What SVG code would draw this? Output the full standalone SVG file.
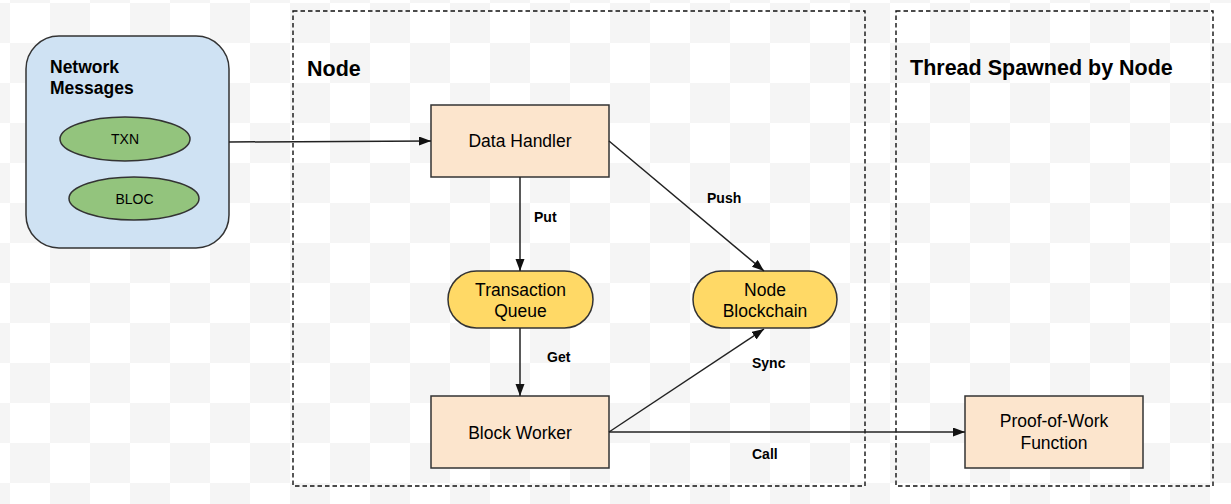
<svg xmlns="http://www.w3.org/2000/svg" width="1231" height="504" viewBox="0 0 1231 504">
  <defs>
    <pattern id="checker" patternUnits="userSpaceOnUse" x="10" y="3" width="80" height="80">
      <rect x="0" y="0" width="80" height="80" fill="#ffffff"/>
      <rect x="40" y="0" width="40" height="40" fill="#f5f5f5"/>
      <rect x="0" y="40" width="40" height="40" fill="#f5f5f5"/>
    </pattern>
    <marker id="arrow" markerUnits="userSpaceOnUse" markerWidth="13" markerHeight="10" refX="12" refY="4.5" orient="auto">
      <path d="M0,0 L12,4.5 L0,9 z" fill="#111"/>
    </marker>
    <style>
      text { font-family: "Liberation Sans", Arial, sans-serif; fill: #000; }
      .title { font-weight: bold; font-size: 21.5px; }
      .sub { font-weight: bold; font-size: 17.5px; }
      .lbl { font-size: 17.5px; text-anchor: middle; }
      .small { font-size: 14px; text-anchor: middle; }
      .edge { font-weight: bold; font-size: 14px; }
      .frame { fill: none; stroke: #111; stroke-width: 1.4; stroke-dasharray: 4.5 3; }
      .box { fill: #fce5cd; stroke: #333; stroke-width: 1.5; }
      .pill { fill: #ffd966; stroke: #333; stroke-width: 1.5; }
      .oval { fill: #93c47d; stroke: #333; stroke-width: 1.5; }
      .conn { fill: none; stroke: #222; stroke-width: 1.5; }
    </style>
  </defs>
  <rect x="0" y="0" width="1231" height="504" fill="url(#checker)"/>

  <g id="frame-node">
    <rect class="frame" x="293" y="11" width="572" height="475"/>
    <text class="title" x="307" y="76">Node</text>
  </g>
  <g id="frame-thread">
    <rect class="frame" x="896" y="11" width="317" height="475"/>
    <text class="title" x="910" y="75">Thread Spawned by Node</text>
  </g>

  <g id="network-messages">
    <rect x="26" y="36" width="203" height="212" rx="33" ry="33" fill="#cfe2f3" stroke="#333" stroke-width="1.5"/>
    <text class="sub" x="50" y="73">Network</text>
    <text class="sub" x="50" y="94">Messages</text>
  </g>
  <g id="txn">
    <ellipse class="oval" cx="125" cy="139" rx="65" ry="22"/>
    <text class="small" x="125" y="144">TXN</text>
  </g>
  <g id="bloc">
    <ellipse class="oval" cx="134" cy="198.5" rx="65" ry="21.5"/>
    <text class="small" x="134.5" y="204">BLOC</text>
  </g>

  <g id="data-handler">
    <rect class="box" x="431" y="105" width="178" height="72"/>
    <text class="lbl" x="520" y="147">Data Handler</text>
  </g>
  <g id="transaction-queue">
    <rect class="pill" x="448" y="271" width="145" height="57" rx="28.5" ry="28.5"/>
    <text class="lbl" x="520.5" y="296">Transaction</text>
    <text class="lbl" x="520.5" y="317">Queue</text>
  </g>
  <g id="node-blockchain">
    <rect class="pill" x="693" y="271" width="144" height="57" rx="28.5" ry="28.5"/>
    <text class="lbl" x="765" y="296">Node</text>
    <text class="lbl" x="765" y="317">Blockchain</text>
  </g>
  <g id="block-worker">
    <rect class="box" x="431" y="396" width="178" height="72"/>
    <text class="lbl" x="520" y="439">Block Worker</text>
  </g>
  <g id="proof-of-work">
    <rect class="box" x="965" y="396" width="178" height="72"/>
    <text class="lbl" x="1054" y="427">Proof-of-Work</text>
    <text class="lbl" x="1054" y="449">Function</text>
  </g>

  <g id="connectors">
    <line class="conn" x1="229" y1="142" x2="431" y2="141" marker-end="url(#arrow)"/>
    <line class="conn" x1="520" y1="177" x2="520" y2="271" marker-end="url(#arrow)"/>
    <text class="edge" x="534" y="222">Put</text>
    <line class="conn" x1="609" y1="141" x2="764" y2="271" marker-end="url(#arrow)"/>
    <text class="edge" x="707" y="203">Push</text>
    <line class="conn" x1="520" y1="328" x2="520" y2="396" marker-end="url(#arrow)"/>
    <text class="edge" x="547" y="362">Get</text>
    <line class="conn" x1="609" y1="432" x2="764" y2="329" marker-end="url(#arrow)"/>
    <text class="edge" x="752" y="368">Sync</text>
    <line class="conn" x1="609" y1="432" x2="965" y2="432" marker-end="url(#arrow)"/>
    <text class="edge" x="752" y="459">Call</text>
  </g>
</svg>
